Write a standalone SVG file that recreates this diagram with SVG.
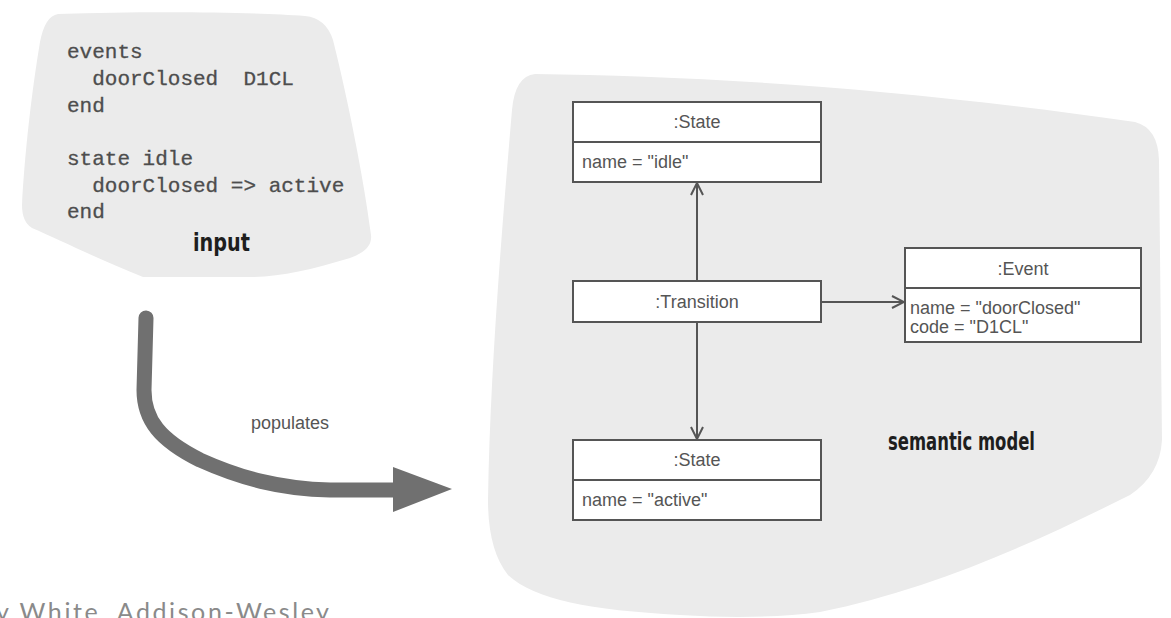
<svg xmlns="http://www.w3.org/2000/svg" width="1171" height="618" viewBox="0 0 1171 618">
  <defs>
    <style>
      .blob { fill: #ebebeb; }
      .code { font-family: "Liberation Mono", "Courier New", monospace; font-size: 21px; fill: #4d4d4d; stroke: #4d4d4d; stroke-width: 0.3; }
      .hand { font-family: "DejaVu Sans Condensed", "DejaVu Sans", sans-serif; font-weight: bold; fill: #1e1e1e; }
      .box { fill: #ffffff; stroke: #555555; stroke-width: 2; }
      .sep { stroke: #555555; stroke-width: 2; }
      .lbl { font-family: "Liberation Sans", Arial, sans-serif; font-size: 18px; fill: #555555; }
      .mid { text-anchor: middle; }
      .link { fill: none; stroke: #555555; stroke-width: 2; }
      .flow { fill: none; stroke: #707070; stroke-width: 15; stroke-linecap: round; stroke-linejoin: round; }
      .credit { font-family: Lato, "Open Sans", sans-serif; font-size: 25px; fill: #8a8a8a; }
    </style>
    <marker id="open" viewBox="0 0 14 14" refX="13" refY="7" markerWidth="14" markerHeight="14" markerUnits="userSpaceOnUse" orient="auto">
      <path d="M1,1 L13,7 L1,13" fill="none" stroke="#555555" stroke-width="2"/>
    </marker>
  </defs>

  <!-- input area -->
  <g id="input">
    <path class="blob" d="M58,14 C150,11 250,12 305,16 Q326,18 333,40 C348,100 364,180 371,235 Q373,250 350,258 C310,270 280,277 250,277 L143,277 C100,260 60,240 32,228 Q22,222 22,205 C25,150 32,90 40,42 Q45,16 58,14 Z"/>
    <text class="code" x="67" y="58">events</text>
    <text class="code" x="67" y="85" xml:space="preserve">  doorClosed  D1CL</text>
    <text class="code" x="67" y="112">end</text>
    <text class="code" x="67" y="165">state idle</text>
    <text class="code" x="67" y="192" xml:space="preserve">  doorClosed =&gt; active</text>
    <text class="code" x="67" y="218">end</text>
    <text class="hand" x="193" y="251" font-size="25" textLength="57" lengthAdjust="spacingAndGlyphs">input</text>
  </g>

  <!-- semantic model area -->
  <g id="semantic-model">
    <path class="blob" d="M535,74 C700,76 900,88 1135,122 Q1158,128 1159,160 L1162,440 Q1160,475 1130,495 C1030,545 930,590 820,612 Q760,620 680,615 C590,610 535,600 508,575 Q488,550 488,500 C490,380 500,250 512,110 Q515,76 535,74 Z"/>
    <text class="hand" x="888" y="450" font-size="25" textLength="147" lengthAdjust="spacingAndGlyphs">semantic model</text>
  </g>

  <!-- populates flow -->
  <g id="populates">
    <path class="flow" d="M146,318 L144,390 C144,420 160,440 200,460 C240,478 280,489 330,490 L396,490"/>
    <polygon points="393,467 452,489 393,512" fill="#707070"/>
    <text class="lbl" x="251" y="429">populates</text>
  </g>

  <!-- associations -->
  <g id="connectors">
    <line class="link" x1="697" y1="281" x2="697" y2="183" marker-end="url(#open)"/>
    <line class="link" x1="697" y1="322" x2="697" y2="439" marker-end="url(#open)"/>
    <line class="link" x1="821" y1="302" x2="904" y2="302" marker-end="url(#open)"/>
  </g>

  <g id="state-idle">
    <rect class="box" x="573" y="102" width="248" height="80"/>
    <line class="sep" x1="573" y1="142" x2="821" y2="142"/>
    <text class="lbl mid" x="697" y="128">:State</text>
    <text class="lbl" x="582" y="168">name = "idle"</text>
  </g>

  <g id="transition">
    <rect class="box" x="573" y="281" width="248" height="41"/>
    <text class="lbl mid" x="697" y="308">:Transition</text>
  </g>

  <g id="event">
    <rect class="box" x="905" y="248" width="236" height="94"/>
    <line class="sep" x1="905" y1="288" x2="1141" y2="288"/>
    <text class="lbl mid" x="1023" y="275">:Event</text>
    <text class="lbl" x="910" y="314">name = "doorClosed"</text>
    <text class="lbl" x="910" y="333">code = "D1CL"</text>
  </g>

  <g id="state-active">
    <rect class="box" x="573" y="440" width="248" height="80"/>
    <line class="sep" x1="573" y1="480" x2="821" y2="480"/>
    <text class="lbl mid" x="697" y="466">:State</text>
    <text class="lbl" x="582" y="506">name = "active"</text>
  </g>

  <text class="credit" x="-4" y="621" textLength="333" lengthAdjust="spacing">y White, Addison-Wesley</text>
</svg>
